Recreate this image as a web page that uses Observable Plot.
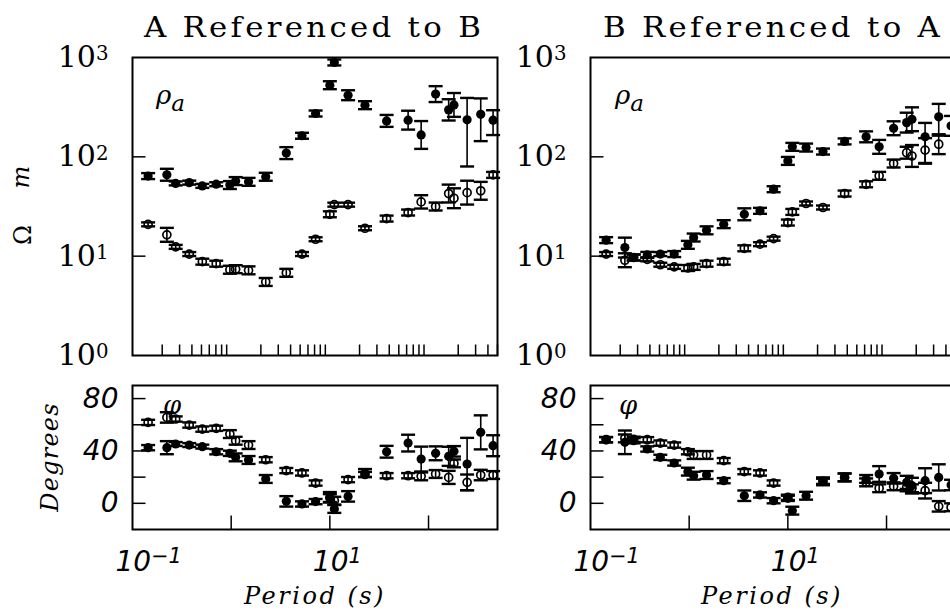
<!DOCTYPE html>
<html>
<head>
<meta charset="utf-8">
<script src="https://cdn.jsdelivr.net/npm/d3@7"></script>
<script src="https://cdn.jsdelivr.net/npm/@observablehq/plot@0.6"></script>
<style>
  body { margin: 0; background: #fff; }
  #fig { position: relative; width: 950px; height: 611px; overflow: hidden; background: #fff; }
  .pl { position: absolute; width: 500px; }
  .pl svg { max-width: none !important; }
  #overlay { position: absolute; left: 0; top: 0; pointer-events: none; }
</style>
</head>
<body>
<div id="fig"></div>
<script>
// Sounding periods (s), shared by both site combinations
const PERIOD = [0.144, 0.223, 0.274, 0.376, 0.51, 0.705, 0.97, 1.11, 1.5, 2.24, 3.62, 5.22, 7.17,
                10.0, 11.1, 15.3, 22.7, 37.6, 62.1, 84.2, 118, 160, 181, 246, 338, 451];

// A referenced to B — apparent resistivity (ohm m); errors in decades, [down, up] when uneven
const rhoA_filled    = [64, 66, 54, 55, 51, 53, 52, 57, 56, 63, 109, 163, 273, 526, 891, 417, 331, 230, 234, 166, 428, 297, 333, 236, 268, 234];
const rhoA_filledErr = [0.03, 0.06, 0.02, 0.02, 0.02, 0.02, 0.04, 0.04, 0.04, 0.04, 0.06, 0.03, 0.03, 0.04, 0.03, 0.05, 0.04, 0.06, 0.095, 0.14, 0.08, 0.107, 0.12, [0.47, 0.22], [0.27, 0.16], [0.15, 0.10]];
const rhoA_open      = [20.9, 16.4, 12.4, 10.5, 8.8, 8.4, 7.3, 7.4, 7.2, 5.5, 6.8, 10.5, 14.8, 26.4, 33, 33, 19.1, 23.9, 27.5, 35.2, 31.6, 42.7, 38.3, 43.6, 45.5, 65.8];
const rhoA_openErr   = [0.02, 0.07, 0.02, 0.02, 0.03, 0.03, 0.04, 0.04, 0.04, 0.04, 0.04, 0.02, 0.02, 0.03, 0.02, 0.02, 0.02, 0.03, 0.03, 0.067, 0.04, 0.09, 0.10, 0.12, 0.09, 0.03];
// A referenced to B — phase (degrees)
const phiA_filled    = [42.5, 42.5, 45.3, 44.5, 43.3, 39.4, 38.2, 35.1, 33.1, 18.6, 1.5, -0.5, 1.3, 4.6, -4.3, 5.3, 23.2, 39.4, 46, 33.8, 38.2, 35.9, 39.7, 30, 54.2, 44];
const phiA_filledErr = [2, 5, 1.5, 1.5, 1.5, 2, 2, 3, 3, 3, 4, 2, 2, 4, 3, 4, 3, 4.5, 6.4, 9.5, 5.3, 7.3, 4, 20, 13, 8];
const phiA_open      = [61.8, 65.6, 64.4, 59.8, 56.7, 57.3, 52.9, 47.8, 44.5, 33.3, 25, 23.2, 15.5, 4, 2, 18.1, 22, 21.1, 21.1, 20.6, 22.4, 19.8, 30.5, 16, 21.6, 21.6];
const phiA_openErr   = [2, 4, 2, 2, 2, 2, 3, 3, 3, 2, 2, 2, 2, 3, 3, 2, 2, 2, 2, 3, 3, 5, 3, 6, 4, 3];

// B referenced to A — apparent resistivity (ohm m)
const rhoB_filled    = [14.5, 12.2, 9.7, 10.3, 10.5, 10.5, 13, 15.4, 18.2, 21, 26.4, 28.6, 47.2, 91, 126, 124, 113, 143, 159, 126, 194, 221, 239, 159, 253, 205];
const rhoB_filledErr = [0.03, 0.1, 0.03, 0.03, 0.02, 0.03, 0.04, 0.04, 0.04, 0.04, 0.06, 0.03, 0.03, 0.04, 0.04, 0.04, 0.03, 0.03, 0.055, 0.07, 0.07, 0.1, 0.12, [0.27, 0.14], [0.19, 0.13], 0.1];
const rhoB_open      = [10.5, 9.1, 9.7, 9.3, 8.2, 7.8, 7.6, 7.8, 8.4, 8.8, 12, 13.2, 15, 21.8, 27.9, 33.9, 30.9, 42.7, 52.9, 64.4, 85.6, 110, 102, 117, 134, null];
const rhoB_openErr   = [0.02, 0.07, 0.03, 0.02, 0.02, 0.02, 0.03, 0.03, 0.03, 0.03, 0.03, 0.02, 0.02, 0.03, 0.03, 0.02, 0.02, 0.03, 0.03, 0.04, 0.04, 0.06, 0.11, [0.13, 0.12], 0.1, null];
// B referenced to A — phase (degrees)
const phiB_filled    = [48.6, 46.6, 47.8, 41.5, 35.1, 30.8, 24.2, 21.1, 21.6, 17.3, 5.8, 6.4, 2, 3.8, -5.6, 5.8, 16.8, 19.8, 18.6, 22.4, 19.1, 16, 13.5, 17.3, 19.8, 14];
const phiB_filledErr = [2, 9, 2, 2, 2, 2, 3, 3, 3, 2, 4, 2, 2, 2, 3, 3, 2, 3, 3, 6, 4, 5, 6, 9.5, 10, 4];
const phiB_open      = [48.6, 49.6, 48.9, 48.6, 46, 44.5, 39.4, 36.9, 36.9, 32.6, 24.2, 23.2, 15.5, 4.6, null, null, 16.8, 19.8, 16, 11.5, 13, 12.2, 11.5, 9.7, -2.3, -3];
const phiB_openErr   = [2, 3, 2, 2, 2, 2, 2, 3, 3, 2, 2, 2, 2, 2, null, null, 3, 3, 3, 3, 3, 3, 3, 6, 4, 3];

// Axis ticks
const RHO_LABEL_TICKS = [1, 10, 100, 1000];
const RHO_INNER_TICKS = [10, 100];
const PHI_LABEL_TICKS = [0, 40, 80];
const PHI_INNER_TICKS = [0, 20, 40, 60, 80];
const PERIOD_LABEL_TICKS = [0.1, 10];
const PERIOD_MAJOR_TICKS = [1, 10, 100];
const PERIOD_MINOR_TICKS = d3.range(-1, 3)
  .flatMap(k => d3.range(2, 10).map(m => +(m * 10 ** k).toPrecision(3)))
  .filter(v => v <= 500);

const X_DOMAIN = [0.1, 500];
const RHO_DOMAIN = [1, 1000];
const PHI_DOMAIN = [-20, 90];

// Pixel-length symbols: error-bar caps and inward frame ticks
const capSym = { draw(ctx) { ctx.moveTo(-7, 0); ctx.lineTo(7, 0); } };
const yTickSym = { draw(ctx) { ctx.moveTo(0, 0); ctx.lineTo(13, 0); } };
const xTickSym = { draw(ctx) { ctx.moveTo(0, 0); ctx.lineTo(0, -11); } };
const xMajorSym = { draw(ctx) { ctx.moveTo(0, 0); ctx.lineTo(0, -14); } };

function rows(vals, errs, log) {
  const out = [];
  PERIOD.forEach((T, i) => {
    const v = vals[i];
    if (v == null) return;
    const e = errs[i] ?? 0;
    const [dn, up] = Array.isArray(e) ? e : [e, e];
    out.push(log
      ? { T, v, lo: v / 10 ** dn, hi: v * 10 ** up }
      : { T, v, lo: v - dn, hi: v + up });
  });
  return out;
}

function errorMarks(data) {
  return [
    Plot.ruleX(data, { x: "T", y1: "lo", y2: "hi", stroke: "black", strokeWidth: 1.6 }),
    Plot.dot(data, { x: "T", y: "lo", symbol: capSym, fill: "none", stroke: "black", strokeWidth: 2.4 }),
    Plot.dot(data, { x: "T", y: "hi", symbol: capSym, fill: "none", stroke: "black", strokeWidth: 2.4 })
  ];
}

function pointMarks(filled, open) {
  return [
    ...errorMarks(open),
    ...errorMarks(filled),
    Plot.dot(open, { x: "T", y: "v", r: 4, fill: "none", stroke: "black", strokeWidth: 1.7 }),
    Plot.dot(filled, { x: "T", y: "v", r: 4.6, fill: "black", stroke: "none" })
  ];
}

const powLabel = d => {
  const e = Math.round(Math.log10(d));
  return "10^" + (e < 0 ? "\u2212" + (-e) : e);
};

function rhoPanel(filled, filledErr, open, openErr) {
  const F = rows(filled, filledErr, true), O = rows(open, openErr, true);
  return Plot.plot({
    width: 500, height: 370,
    marginLeft: 132, marginRight: 3, marginTop: 57, marginBottom: 15,
    style: { background: "transparent", overflow: "visible", maxWidth: "none", fontFamily: "DejaVu Serif", color: "black" },
    x: { type: "log", domain: X_DOMAIN, axis: null },
    y: { type: "log", domain: RHO_DOMAIN },
    marks: [
      Plot.axisY(RHO_LABEL_TICKS, { tickSize: 0, tickPadding: 24, tickFormat: powLabel,
        fontSize: 30, fontFamily: "DejaVu Serif", label: null }),
      Plot.dot(RHO_INNER_TICKS, { x: () => X_DOMAIN[0], y: d => d, symbol: yTickSym, fill: "none", stroke: "black", strokeWidth: 1.5 }),
      Plot.dot(PERIOD_MINOR_TICKS, { x: d => d, y: () => RHO_DOMAIN[0], symbol: xTickSym, fill: "none", stroke: "black", strokeWidth: 1.5 }),
      ...pointMarks(F, O),
      Plot.frame({ stroke: "black", strokeWidth: 2 })
    ]
  });
}

function phiPanel(filled, filledErr, open, openErr) {
  const F = rows(filled, filledErr, false), O = rows(open, openErr, false);
  return Plot.plot({
    width: 500, height: 241,
    marginLeft: 132, marginRight: 3, marginTop: 15, marginBottom: 82,
    style: { background: "transparent", overflow: "visible", maxWidth: "none", fontFamily: "DejaVu Sans", color: "black" },
    x: { type: "log", domain: X_DOMAIN },
    y: { domain: PHI_DOMAIN },
    marks: [
      Plot.axisY(PHI_LABEL_TICKS, { tickSize: 0, tickPadding: 14, tickFormat: d => String(d),
        fontSize: 28, fontFamily: "DejaVu Sans", fontStyle: "italic", label: null }),
      Plot.axisX(PERIOD_LABEL_TICKS, { tickSize: 0, tickPadding: 22, tickFormat: powLabel,
        textAnchor: "start", dx: -17, fontSize: 28, fontFamily: "DejaVu Sans", fontStyle: "italic", label: null }),
      Plot.dot(PHI_INNER_TICKS, { x: () => X_DOMAIN[0], y: d => d, symbol: yTickSym, fill: "none", stroke: "black", strokeWidth: 1.5 }),
      Plot.dot(PERIOD_MAJOR_TICKS, { x: d => d, y: () => PHI_DOMAIN[0], symbol: xMajorSym, fill: "none", stroke: "black", strokeWidth: 1.5 }),
      ...pointMarks(F, O),
      Plot.frame({ stroke: "black", strokeWidth: 2 })
    ]
  });
}

// Turn "10^3" tick labels into a base with a raised exponent
function raiseExponents(svg) {
  const styles = {
    "y-axis tick label": { dy: "-0.34em", size: "0.66em" },
    "x-axis tick label": { dy: "-0.42em", size: "0.74em" }
  };
  for (const [label, st] of Object.entries(styles)) {
    d3.select(svg).selectAll(`g[aria-label="${label}"] text`).each(function () {
      const s = this.textContent;
      if (!s.includes("^")) return;
      const [base, exp] = s.split("^");
      const t = d3.select(this);
      t.text(base);
      t.append("tspan").attr("dy", st.dy).attr("font-size", st.size).text(exp);
    });
  }
}

const fig = document.getElementById("fig");
function place(svg, left, top) {
  raiseExponents(svg);
  svg.style.maxWidth = "none";
  const div = document.createElement("div");
  div.className = "pl";
  div.style.left = left + "px";
  div.style.top = top + "px";
  div.appendChild(svg);
  fig.appendChild(div);
}

place(rhoPanel(rhoA_filled, rhoA_filledErr, rhoA_open, rhoA_openErr), 0, 0);
place(phiPanel(phiA_filled, phiA_filledErr, phiA_open, phiA_openErr), 0, 370);
place(rhoPanel(rhoB_filled, rhoB_filledErr, rhoB_open, rhoB_openErr), 458, 0);
place(phiPanel(phiB_filled, phiB_filledErr, phiB_open, phiB_openErr), 458, 370);

// Titles and axis names
const ov = d3.select(fig).append("svg").attr("id", "overlay").attr("width", 950).attr("height", 611);

function title(text, cx) {
  ov.append("text").attr("transform", `translate(${cx},37) scale(1.1,1)`)
    .attr("text-anchor", "middle").attr("font-family", "DejaVu Serif").attr("font-size", 28)
    .style("letter-spacing", "3px").text(text);
}
title("A Referenced to B", 314);
title("B Referenced to A", 773);

function rhoLabel(x) {
  const t = ov.append("text").attr("x", x).attr("y", 104)
    .attr("font-family", "DejaVu Serif").attr("font-style", "italic").attr("font-size", 26);
  t.append("tspan").text("\u03c1");
  t.append("tspan").attr("dy", 7).attr("font-size", 23).text("a");
}
rhoLabel(156);
rhoLabel(615);

function phiLabel(x) {
  ov.append("text").attr("x", x).attr("y", 414)
    .attr("font-family", "DejaVu Serif").attr("font-style", "italic").attr("font-size", 26)
    .text("\u03c6");
}
phiLabel(163);
phiLabel(619);

// Resistivity unit, reading upwards
ov.append("text").attr("transform", "translate(31,235) rotate(-90)").attr("text-anchor", "middle")
  .attr("font-family", "DejaVu Serif").attr("font-size", 24).text("\u03a9");
ov.append("text").attr("transform", "translate(29,177) rotate(-90)").attr("text-anchor", "middle")
  .attr("font-family", "DejaVu Serif").attr("font-style", "italic").attr("font-size", 24).text("m");

ov.append("text").attr("transform", "translate(58,457) rotate(-90)").attr("text-anchor", "middle")
  .attr("font-family", "DejaVu Serif").attr("font-style", "italic").attr("font-size", 24)
  .style("letter-spacing", "1.2px").text("Degrees");

for (const cx of [315, 772]) {
  ov.append("text").attr("x", cx).attr("y", 604).attr("text-anchor", "middle")
    .attr("font-family", "DejaVu Serif").attr("font-style", "italic").attr("font-size", 24)
    .style("letter-spacing", "2.5px").text("Period (s)");
}
</script>
</body>
</html>
